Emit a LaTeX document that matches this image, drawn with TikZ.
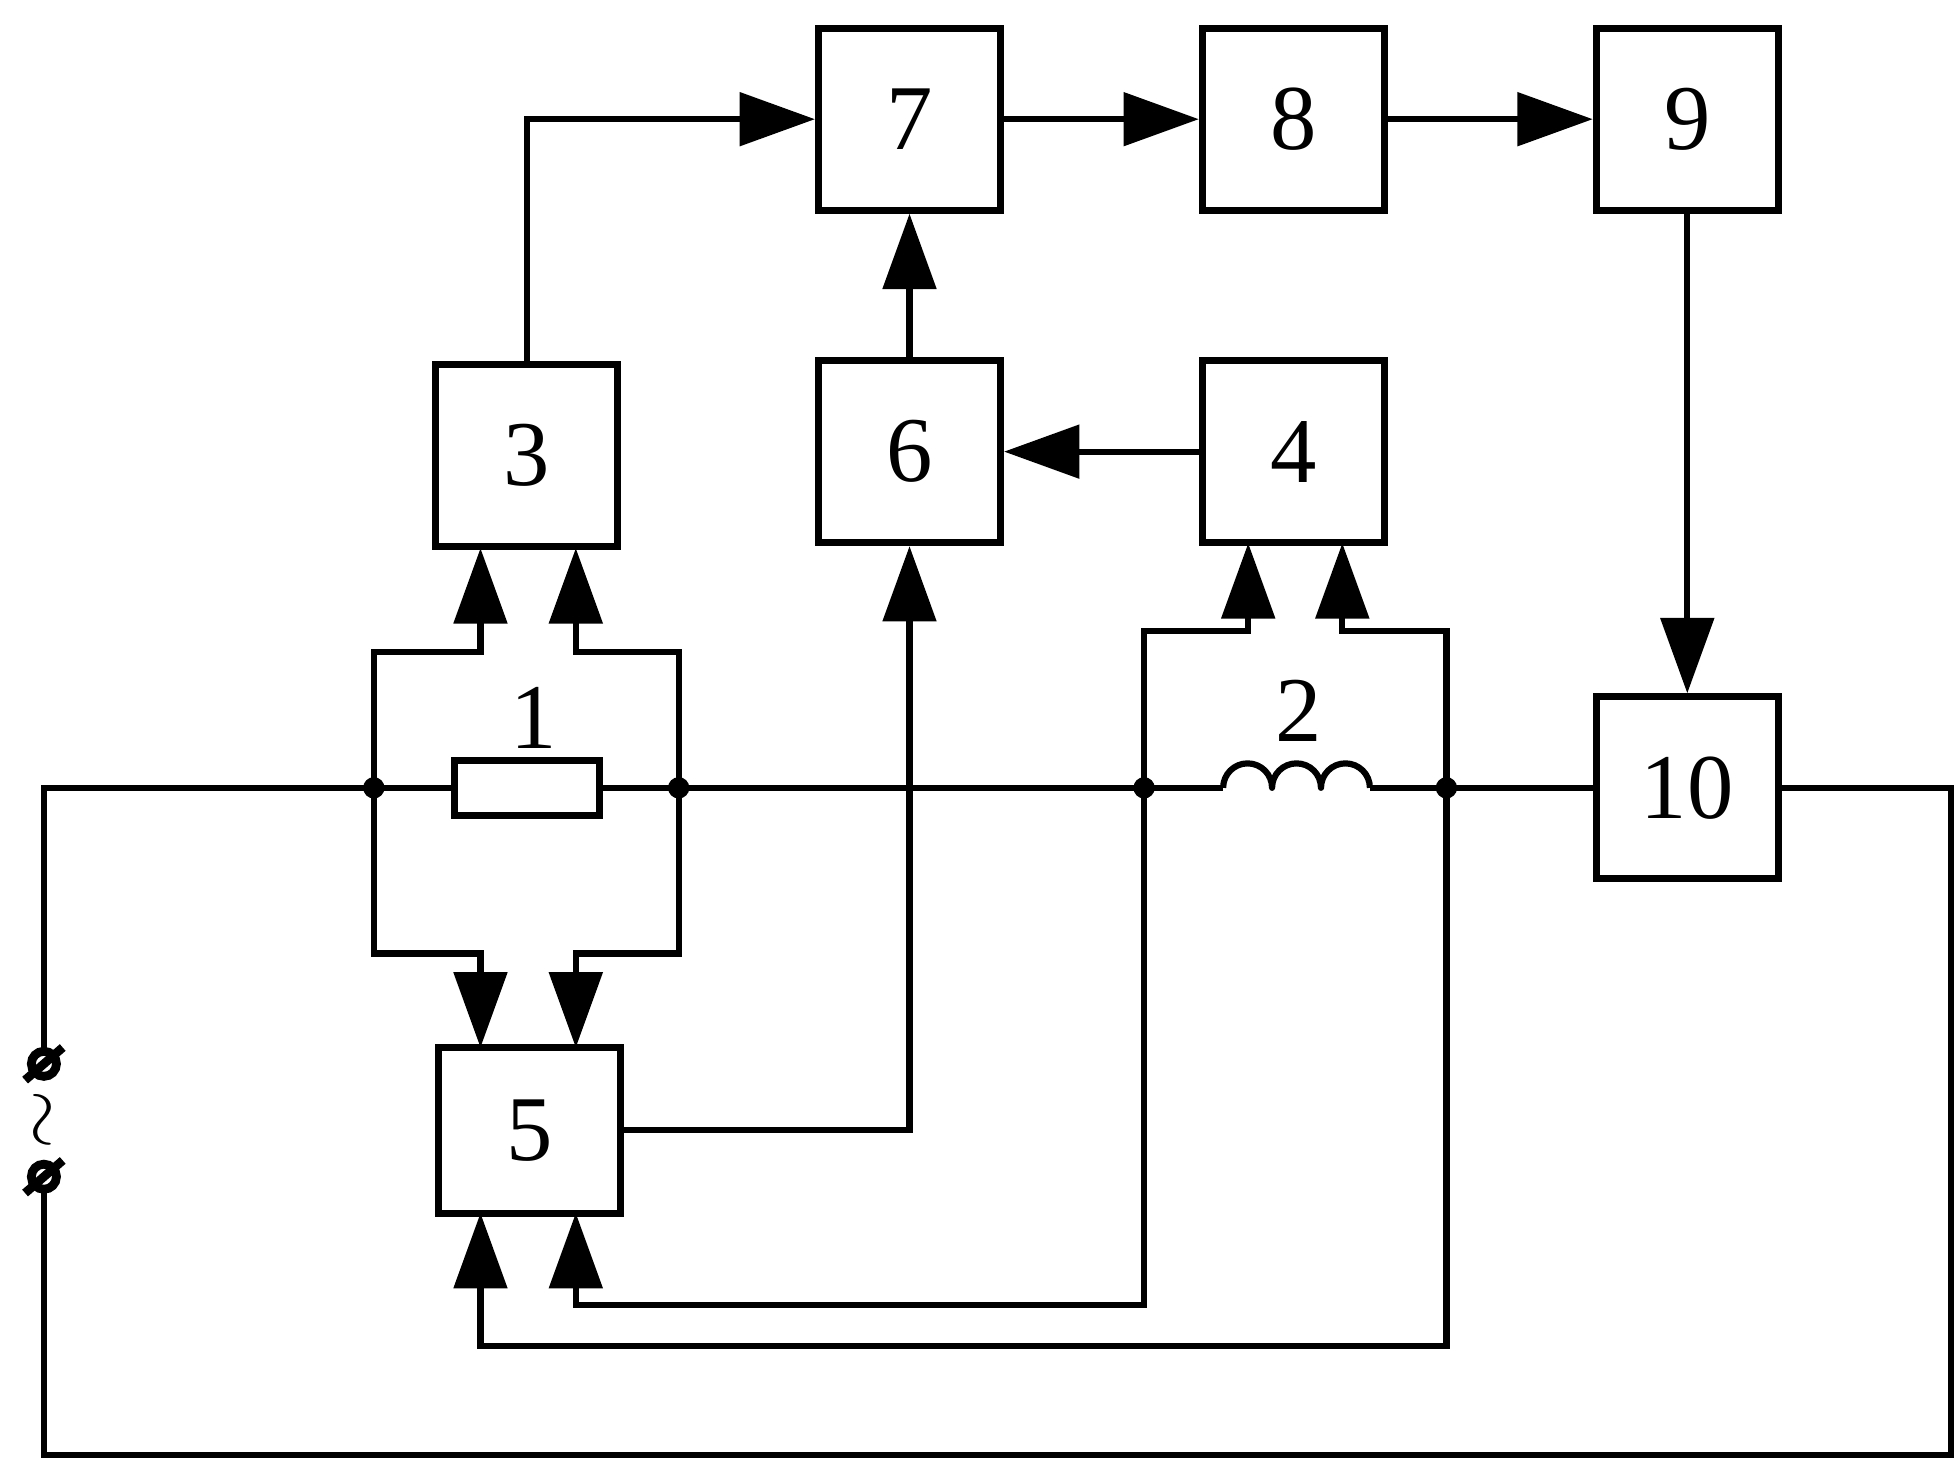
\documentclass[tikz,border=0pt]{standalone}
\usepackage{fontspec}
\setmainfont{Liberation Serif}
\usetikzlibrary{arrows.meta,calc}
\begin{document}
\begin{tikzpicture}[x=0.01cm,y=-0.01cm,line width=1.4pt,
  box/.style={draw,line width=1.6pt,minimum width=1.45cm,minimum height=1.45cm,inner sep=0pt,font=\fontsize{21}{25}\selectfont},
  ar/.style={-{Triangle[length=0.6cm,width=0.42cm]}},
  dot/.style={circle,fill,inner sep=0pt,minimum size=0.17cm},
  lbl/.style={font=\fontsize{21}{25}\selectfont}]
\useasboundingbox (0,0) rectangle (1560,1163);
\node[box] (b7) at (725,95) {7};
\node[box] (b8) at (1031,95) {8};
\node[box] (b9) at (1345,95) {9};
\node[box] (b3) at (420,363) {3};
\node[box] (b6) at (725,360) {6};
\node[box] (b4) at (1031,360) {4};
\node[box] (b10) at (1345,628) {10};
\node[box,minimum height=1.32cm] (b5) at (422,901) {5};
\node[draw,line width=1.6pt,minimum width=1.15cm,minimum height=0.44cm,inner sep=0pt] (r1) at (420,628) {};
\node[lbl] (l1) at (425,572) {1};
\node[lbl] (l2) at (1035,567) {2};
\coordinate (i1) at (975,628);
\coordinate (i2) at (1092,628);
\node[dot] (j1) at (298,628) {};
\node[dot] (j2) at (541,628) {};
\node[dot] (j3) at (912,628) {};
\node[dot] (j4) at (1153,628) {};
% main line
\draw (r1.east) -- (j2.center) -- (j3.center) -- (i1);
\draw[line join=round] (i1) arc (180:360:19.5) arc (180:360:19.5) arc (180:360:19.5);
\draw (i2) -- (j4.center) -- (b10.west);
\coordinate (t1) at (35,848);
\coordinate (t2) at (35,938);
\draw (r1.west) -- (j1.center) -- (35,628) -- (t1);
\draw (t2) -- (35,1160) -- (1555,1160) -- (1555,628) -- (b10.east);
\foreach \p in {t1,t2}{\draw[line width=2pt,fill=white] (\p) circle (10); \draw[line width=2pt] ($(\p)+(-15,13)$) -- ($(\p)+(15,-13)$);}
\node[font=\fontsize{16}{18}\selectfont,rotate=90,inner sep=0pt] (tl) at (38,893) {$\sim$};
% to 3 and 5
\draw[ar] (j1.center) -- (298,520) -- (383,520) -- (383,437);
\draw[ar] (j2.center) -- (541,520) -- (459,520) -- (459,437);
\draw[ar] (j1.center) -- (298,760) -- (383,760) -- (383,835);
\draw[ar] (j2.center) -- (541,760) -- (459,760) -- (459,835);
% to 4
\draw[ar] (j3.center) -- (912,503) -- (995,503) -- (995,433);
\draw[ar] (j4.center) -- (1153,503) -- (1070,503) -- (1070,433);
% to 5 bottom
\draw[ar] (j3.center) -- (912,1040) -- (459,1040) -- (459,967);
\draw[ar] (j4.center) -- (1153,1073) -- (383,1073) -- (383,967);
% 5 to 6
\draw[ar] (b5.east) -| (b6.south);
% top
\draw[ar] (b3.north) |- (b7.west);
\draw[ar] (b6.north) -- (b7.south);
\draw[ar] (b4.west) -- (b6.east);
\draw[ar] (b7.east) -- (b8.west);
\draw[ar] (b8.east) -- (b9.west);
\draw[ar] (b9.south) -- (b10.north);
\end{tikzpicture}
\end{document}
